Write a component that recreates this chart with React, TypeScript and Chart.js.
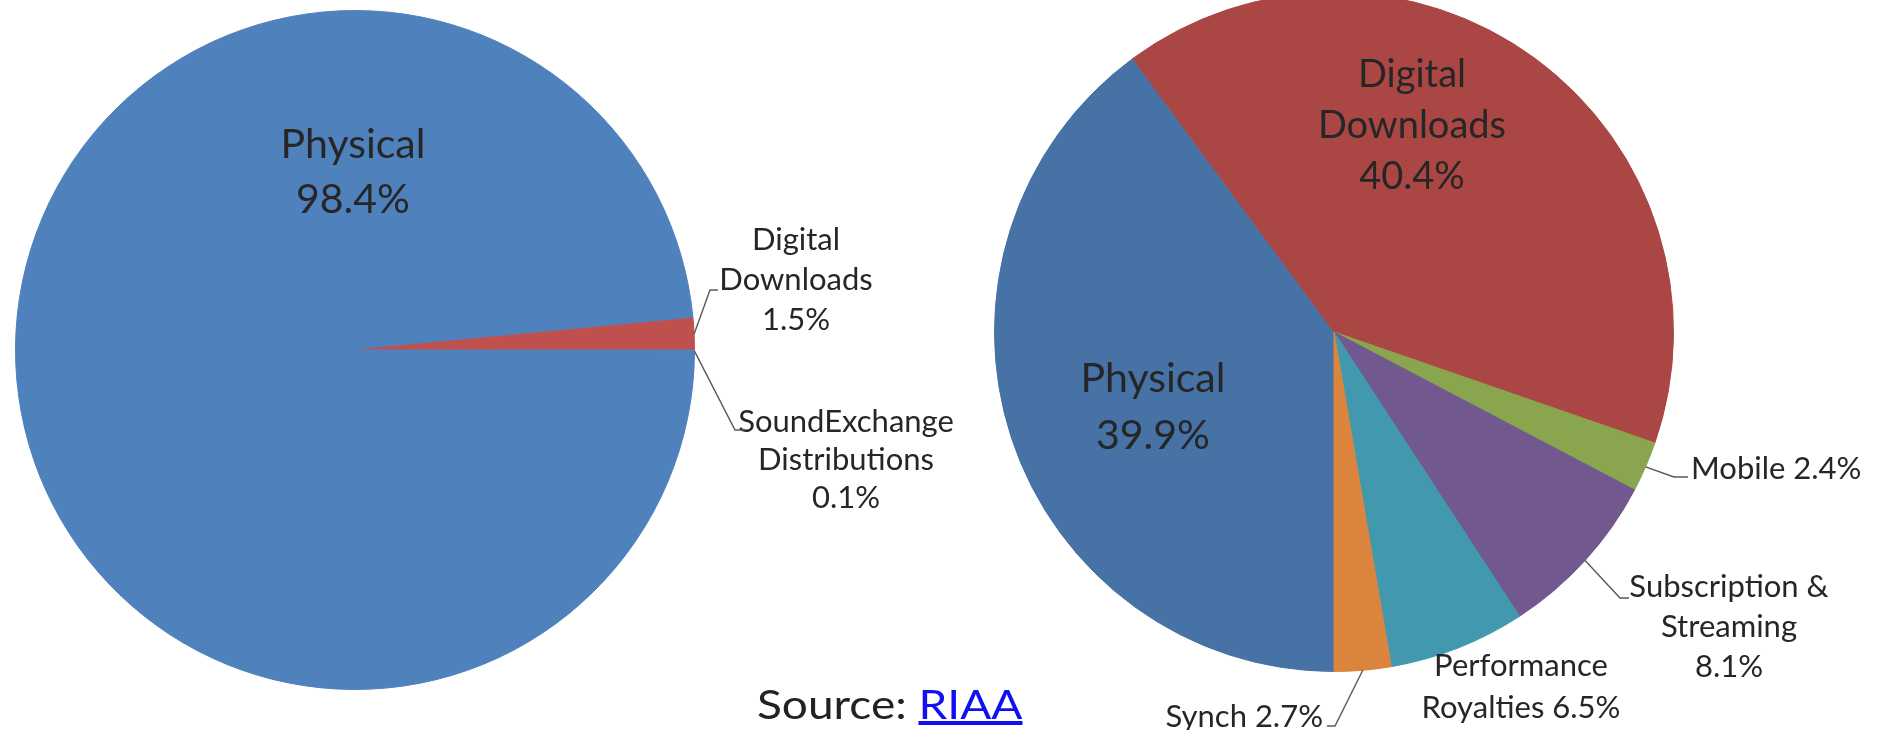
import React, { useEffect, useRef } from 'react';
import { Chart, ArcElement, PieController } from 'chart.js';

Chart.register(ArcElement, PieController);

const FONT = 'Lato, "Open Sans", sans-serif';

// ---- Data: left pie (2004) ----
const leftCategories = ['Physical', 'Digital Downloads', 'SoundExchange Distributions'];
const leftValues = [98.4, 1.5, 0.1];
const leftColors = ['#4F81BD', '#C0504D', '#4F81BD'];
const leftLabelLines = [
  ['Physical', '{v}'],
  ['Digital', 'Downloads', '{v}'],
  ['SoundExchange', 'Distributions', '{v}'],
];

// ---- Data: right pie (2011) ----
const rightCategories = [
  'Physical',
  'Digital Downloads',
  'Mobile',
  'Subscription & Streaming',
  'Performance Royalties',
  'Synch',
];
const rightValues = [39.9, 40.4, 2.4, 8.1, 6.5, 2.7];
const rightColors = ['#4672A6', '#AA4643', '#89A54E', '#71588F', '#4198AF', '#DB843D'];
const rightLabelLines = [
  ['Physical', '{v}'],
  ['Digital', 'Downloads', '{v}'],
  ['Mobile {v}'],
  ['Subscription &', 'Streaming', '{v}'],
  ['Performance', 'Royalties {v}'],
  ['Synch {v}'],
];

// ---- Layout (page coordinates) ----
type Lab = {
  x: number;
  y: number;
  gap?: number;
  size: number;
  align?: CanvasTextAlign;
  leader?: [number, number][];
};

const leftLayout: Lab[] = [
  { x: 353, y: 158, gap: 55, size: 41 },
  { x: 796, y: 250, gap: 40, size: 31, leader: [[710, 290], [718, 290]] },
  { x: 846, y: 432, gap: 38, size: 31, leader: [[735, 430], [745, 430]] },
];

const rightLayout: Lab[] = [
  { x: 1153, y: 392, gap: 57, size: 41 },
  { x: 1412, y: 87, gap: 51, size: 38 },
  { x: 1691, y: 479, size: 31, align: 'left', leader: [[1674, 477], [1688, 477]] },
  { x: 1729, y: 597, gap: 40, size: 31, leader: [[1620, 598], [1629, 598]] },
  { x: 1521, y: 676, gap: 42, size: 31 },
  { x: 1323, y: 727, size: 31, align: 'right', leader: [[1335, 726], [1327, 726]] },
];

const labelPlugin = {
  id: 'pieLabels',
  afterDraw(chart: any, _args: any, opts: any) {
    const { ctx } = chart;
    const meta = chart.getDatasetMeta(0);
    const values: number[] = chart.data.datasets[0].data;
    const ox = opts.ox || 0;
    const oy = opts.oy || 0;
    (opts.layout as Lab[]).forEach((lab, i) => {
      const lines: string[] = opts.lines[i].map((t: string) =>
        t.replace('{v}', values[i].toFixed(1) + '%')
      );
      ctx.save();
      ctx.fillStyle = '#262626';
      ctx.font = `${lab.size}px ${FONT}`;
      ctx.textAlign = lab.align || 'center';
      ctx.textBaseline = 'alphabetic';
      lines.forEach((t, k) => {
        ctx.fillText(t, lab.x - ox, lab.y + k * (lab.gap || 0) - oy);
      });
      if (lab.leader) {
        const arc = meta.data[i];
        const p = arc.getProps(['x', 'y', 'startAngle', 'endAngle', 'outerRadius'], true);
        const mid = (p.startAngle + p.endAngle) / 2;
        ctx.beginPath();
        ctx.moveTo(p.x + Math.cos(mid) * p.outerRadius, p.y + Math.sin(mid) * p.outerRadius);
        lab.leader.forEach(([px, py]) => ctx.lineTo(px - ox, py - oy));
        ctx.strokeStyle = '#595959';
        ctx.lineWidth = 1.4;
        ctx.stroke();
      }
      ctx.restore();
    });
  },
};

function makePie(
  canvas: HTMLCanvasElement,
  labels: string[],
  values: number[],
  colors: string[],
  rotation: number,
  padding: { left: number; right: number; top: number; bottom: number },
  layout: Lab[],
  lines: string[][],
  ox: number,
  oy: number
) {
  return new Chart(canvas, {
    type: 'pie',
    data: {
      labels,
      datasets: [
        {
          data: values,
          backgroundColor: colors,
          borderColor: colors,
          borderWidth: 1,
        },
      ],
    },
    options: {
      responsive: false,
      animation: false,
      events: [],
      rotation,
      layout: { padding },
      plugins: {
        legend: { display: false },
        tooltip: { enabled: false },
        pieLabels: { layout, lines, ox, oy },
      } as any,
    },
    plugins: [labelPlugin],
  });
}

export default function App() {
  const leftRef = useRef<HTMLCanvasElement>(null);
  const rightRef = useRef<HTMLCanvasElement>(null);

  useEffect(() => {
    const c1 = makePie(
      leftRef.current!,
      leftCategories,
      leftValues,
      leftColors,
      90.36,
      { left: 15, right: 265, top: 10, bottom: 40 },
      leftLayout,
      leftLabelLines,
      0,
      0
    );
    const c2 = makePie(
      rightRef.current!,
      rightCategories,
      rightValues,
      rightColors,
      180,
      { left: 34, right: 209, top: 12, bottom: 58 },
      rightLayout,
      rightLabelLines,
      960,
      -20
    );
    return () => {
      c1.destroy();
      c2.destroy();
    };
  }, []);

  return (
    <div
      style={{
        position: 'absolute',
        left: 0,
        top: 0,
        width: 1883,
        height: 730,
        overflow: 'hidden',
        background: '#fff',
      }}
    >
      <canvas
        ref={leftRef}
        width={960}
        height={730}
        style={{ position: 'absolute', left: 0, top: 0, width: 960, height: 730 }}
      />
      <canvas
        ref={rightRef}
        width={923}
        height={750}
        style={{ position: 'absolute', left: 960, top: -20, width: 923, height: 750 }}
      />
      <div
        style={{
          position: 'absolute',
          left: 757,
          top: 680,
          fontFamily: FONT,
          fontSize: 40,
          lineHeight: 1.2,
          color: '#222',
          whiteSpace: 'nowrap',
          transform: 'scaleX(1.15)',
          transformOrigin: 'left center',
        }}
      >
        Source:{' '}
        <a href="#" style={{ color: '#1010F0', textDecoration: 'underline' }}>
          RIAA
        </a>
      </div>
    </div>
  );
}
